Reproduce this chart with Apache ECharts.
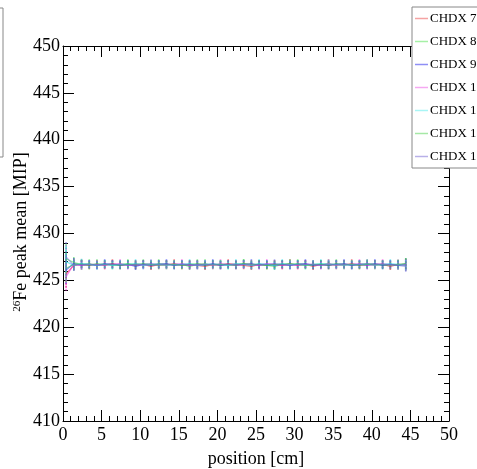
<!DOCTYPE html>
<html>
<head>
<meta charset="utf-8">
<script src="https://cdn.jsdelivr.net/npm/echarts@6/dist/echarts.min.js"></script>
<style>
  html, body { margin: 0; padding: 0; background: #fff; }
  #chart { width: 477px; height: 469px; }
</style>
</head>
<body>
<div id="chart"></div>
<script>
// Bin centres along the module [cm]
const positions = [0.4, 1.4, 2.4, 3.4, 4.4, 5.4, 6.4, 7.4, 8.4, 9.4,
  10.4, 11.4, 12.4, 13.4, 14.4, 15.4, 16.4, 17.4, 18.4, 19.4,
  20.4, 21.4, 22.4, 23.4, 24.4, 25.4, 26.4, 27.4, 28.4, 29.4,
  30.4, 31.4, 32.4, 33.4, 34.4, 35.4, 36.4, 37.4, 38.4, 39.4,
  40.4, 41.4, 42.4, 43.4, 44.4];

// Fitted 26Fe peak mean [MIP] per channel
const chdx7 = [425.7, 426.6, 426.7, 426.6, 426.7, 426.6, 426.8, 426.6, 426.7, 426.6,
  426.7, 426.5, 426.7, 426.6, 426.8, 426.6, 426.7, 426.6, 426.5, 426.7,
  426.6, 426.8, 426.7, 426.6, 426.5, 426.7, 426.6, 426.7, 426.6, 426.8,
  426.6, 426.7, 426.5, 426.7, 426.6, 426.7, 426.6, 426.8, 426.6, 426.7,
  426.6, 426.7, 426.5, 426.7, 426.6];
const chdx8 = [427.3, 426.9, 426.7, 426.8, 426.6, 426.7, 426.6, 426.7, 426.8, 426.6,
  426.7, 426.6, 426.8, 426.7, 426.6, 426.7, 426.5, 426.7, 426.8, 426.6,
  426.7, 426.6, 426.7, 426.8, 426.6, 426.7, 426.6, 426.5, 426.7, 426.6,
  426.8, 426.7, 426.6, 426.7, 426.8, 426.6, 426.7, 426.6, 426.7, 426.8,
  426.7, 426.6, 426.7, 426.6, 426.8];
const chdx9 = [426.1, 426.8, 426.6, 426.7, 426.6, 426.8, 426.7, 426.6, 426.7, 426.5,
  426.7, 426.6, 426.7, 426.8, 426.6, 426.7, 426.6, 426.7, 426.6, 426.8,
  426.6, 426.7, 426.6, 426.7, 426.8, 426.6, 426.7, 426.6, 426.7, 426.6,
  426.7, 426.8, 426.6, 426.7, 426.6, 426.7, 426.8, 426.6, 426.7, 426.6,
  426.8, 426.6, 426.7, 426.6, 426.7];
const chdx10 = [425.4, 426.7, 426.6, 426.7, 426.7, 426.6, 426.7, 426.8, 426.6, 426.7,
  426.6, 426.7, 426.6, 426.7, 426.7, 426.8, 426.6, 426.7, 426.7, 426.6,
  426.8, 426.7, 426.6, 426.7, 426.7, 426.6, 426.8, 426.7, 426.6, 426.7,
  426.6, 426.7, 426.7, 426.6, 426.8, 426.6, 426.7, 426.7, 426.8, 426.6,
  426.7, 426.8, 426.6, 426.7, 426.7];
const chdx11 = [427.0, 426.6, 426.8, 426.7, 426.6, 426.7, 426.6, 426.7, 426.7, 426.8,
  426.6, 426.7, 426.7, 426.6, 426.7, 426.7, 426.8, 426.6, 426.7, 426.7,
  426.7, 426.6, 426.8, 426.7, 426.6, 426.8, 426.7, 426.6, 426.8, 426.7,
  426.7, 426.6, 426.7, 426.8, 426.7, 426.7, 426.6, 426.7, 426.7, 426.7,
  426.6, 426.7, 426.8, 426.7, 426.6];
const chdx12 = [426.3, 426.7, 426.7, 426.6, 426.8, 426.7, 426.7, 426.6, 426.7, 426.7,
  426.8, 426.7, 426.6, 426.7, 426.7, 426.6, 426.7, 426.8, 426.6, 426.7,
  426.7, 426.7, 426.6, 426.8, 426.7, 426.7, 426.6, 426.7, 426.7, 426.8,
  426.7, 426.6, 426.7, 426.7, 426.6, 426.8, 426.7, 426.7, 426.6, 426.7,
  426.7, 426.7, 426.6, 426.7, 426.8];
const chdx13 = [427.5, 426.6, 426.7, 426.7, 426.6, 426.7, 426.7, 426.7, 426.6, 426.7,
  426.7, 426.8, 426.7, 426.7, 426.6, 426.7, 426.7, 426.6, 426.7, 426.7,
  426.6, 426.7, 426.7, 426.7, 426.6, 426.7, 426.7, 426.8, 426.7, 426.6,
  426.7, 426.7, 426.7, 426.6, 426.7, 426.7, 426.7, 426.6, 426.7, 426.8,
  426.7, 426.7, 426.7, 426.6, 426.5];

// Statistical uncertainty of the peak mean per bin [MIP]
const peakErr = [1.6, 0.6, 0.5, 0.45, 0.45, 0.45, 0.45, 0.45, 0.45, 0.45,
  0.45, 0.45, 0.45, 0.45, 0.45, 0.45, 0.45, 0.45, 0.45, 0.45,
  0.45, 0.45, 0.45, 0.45, 0.45, 0.45, 0.45, 0.45, 0.45, 0.45,
  0.45, 0.45, 0.45, 0.45, 0.45, 0.45, 0.45, 0.45, 0.45, 0.45,
  0.45, 0.45, 0.45, 0.5, 0.6];

const channelNames = ['CHDX 7', 'CHDX 8', 'CHDX 9', 'CHDX 10', 'CHDX 11', 'CHDX 12', 'CHDX 13'];
const channelValues = [chdx7, chdx8, chdx9, chdx10, chdx11, chdx12, chdx13];
const channelColors = [
  'rgba(235,40,60,0.6)', 'rgba(60,220,80,0.6)', 'rgba(50,60,240,0.6)',
  'rgba(240,40,220,0.55)', 'rgba(40,220,230,0.6)', 'rgba(50,200,80,0.55)',
  'rgba(110,100,220,0.55)'
];
const legendColors = ['#f5a3a3', '#a6f0a6', '#8f8ff5', '#f5a8f2', '#a8f5f5', '#a6e8a6', '#b8b0e8'];

const xTicks = { min: 0, max: 50, interval: 5 };
const yTicks = { min: 410, max: 450, interval: 5 };

const serif = 'Liberation Serif, Times New Roman, serif';

function axisBase(showLabel) {
  return {
    axisLine: { show: true, onZero: false, lineStyle: { color: '#000', width: 1 } },
    axisTick: { show: true, inside: true, length: 11, lineStyle: { color: '#000', width: 1 } },
    minorTick: { show: true, splitNumber: 5, length: 5, lineStyle: { color: '#000', width: 1 } },
    splitLine: { show: false },
    axisLabel: { show: showLabel, color: '#000', fontFamily: serif, fontSize: 18 }
  };
}

const series = [];
channelNames.forEach((name, i) => {
  const pts = positions.map((x, k) => [x, channelValues[i][k], peakErr[k]]);
  series.push({
    name: name,
    type: 'line',
    data: pts.map(p => [p[0], p[1]]),
    showSymbol: false,
    color: legendColors[i],
    lineStyle: { color: channelColors[i], width: 1.2 },
    animation: false,
    z: 3
  });
  series.push({
    name: name,
    type: 'custom',
    data: pts,
    animation: false,
    z: 2,
    renderItem: function (params, api) {
      const x = api.value(0), y = api.value(1), e = api.value(2);
      const top = api.coord([x, y + e]);
      const bot = api.coord([x, y - e]);
      return {
        type: 'line',
        shape: { x1: top[0], y1: top[1], x2: bot[0], y2: bot[1] },
        style: { stroke: channelColors[i], lineWidth: 1.6, lineDash: [2, 1] }
      };
    }
  });
});

const chart = echarts.init(document.getElementById('chart'), null, { renderer: 'canvas' });
chart.setOption({
  backgroundColor: '#fff',
  animation: false,
  grid: { left: 63, right: 28, top: 46, bottom: 48 },
  xAxis: [
    Object.assign({ type: 'value', position: 'bottom', min: xTicks.min, max: xTicks.max, interval: xTicks.interval }, axisBase(true), {
      axisLabel: { show: true, color: '#000', fontFamily: serif, fontSize: 18, margin: 5 }
    }),
    Object.assign({ type: 'value', position: 'top', min: xTicks.min, max: xTicks.max, interval: xTicks.interval }, axisBase(false))
  ],
  yAxis: [
    Object.assign({ type: 'value', position: 'left', min: yTicks.min, max: yTicks.max, interval: yTicks.interval }, axisBase(true), {
      axisLabel: { show: true, color: '#000', fontFamily: serif, fontSize: 18, margin: 3 }
    }),
    Object.assign({ type: 'value', position: 'right', min: yTicks.min, max: yTicks.max, interval: yTicks.interval }, axisBase(false))
  ],
  legend: {
    data: channelNames,
    orient: 'vertical',
    left: 412,
    top: 7,
    padding: [5, 20, 5, 3],
    itemGap: 10,
    itemWidth: 13,
    itemHeight: 1.5,
    icon: 'rect',
    backgroundColor: '#fff',
    borderColor: '#888',
    borderWidth: 1,
    borderRadius: 0,
    textStyle: { color: '#000', fontFamily: serif, fontSize: 13, lineHeight: 13, padding: [0, 0, 0, -3] }
  },
  graphic: [
    {
      type: 'rect',
      shape: { x: -10, y: 8, width: 13, height: 149 },
      style: { fill: '#fff', stroke: '#888', lineWidth: 1 },
      z: 10
    },
    {
      type: 'text',
      x: 256,
      y: 459,
      style: { text: 'position [cm]', fill: '#000', font: '18px ' + serif, align: 'center', verticalAlign: 'middle' }
    },
    {
      type: 'text',
      x: 21,
      y: 232,
      rotation: Math.PI / 2,
      style: {
        text: '{s|26}{n|Fe peak mean [MIP]}',
        align: 'center',
        verticalAlign: 'middle',
        rich: {
          s: { fontFamily: serif, fontSize: 11, fill: '#000', lineHeight: 18, verticalAlign: 'top' },
          n: { fontFamily: serif, fontSize: 18, fill: '#000', lineHeight: 18 }
        }
      }
    }
  ],
  series: series
});
</script>
</body>
</html>
